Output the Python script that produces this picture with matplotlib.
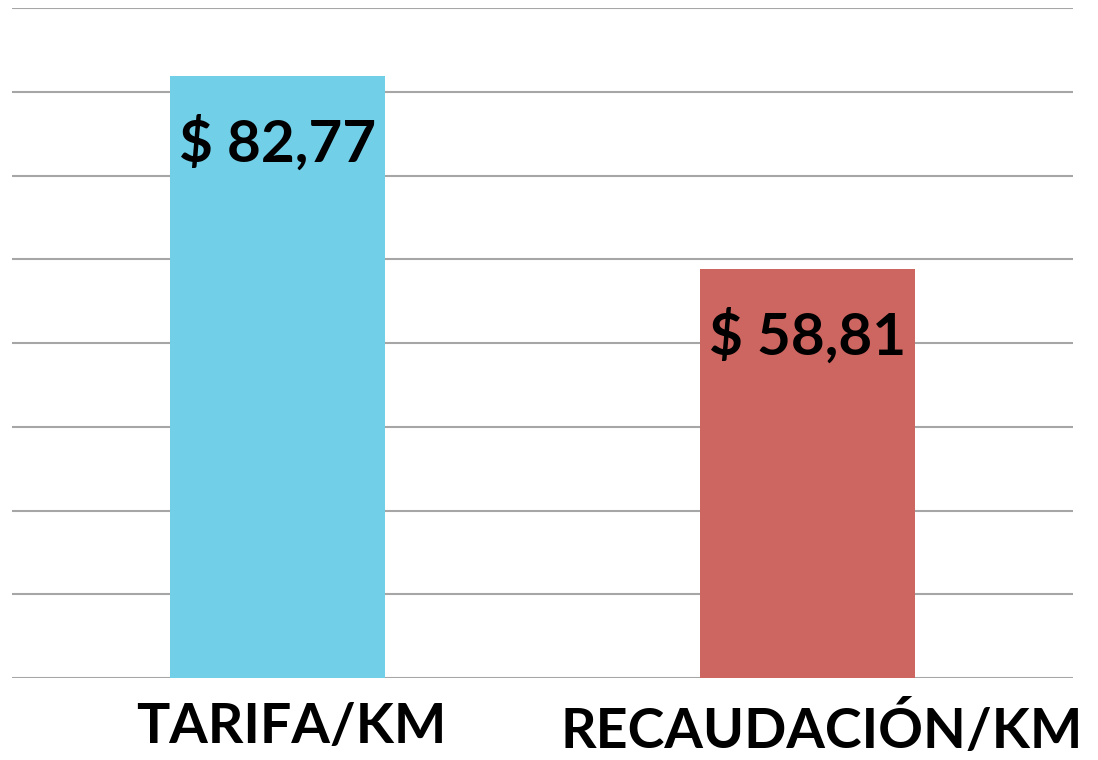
import matplotlib
matplotlib.use("Agg")
import matplotlib.pyplot as plt
import matplotlib.transforms as mtransforms

categories = ["TARIFA/KM", "RECAUDACIÓN/KM"]
bar_heights = [86.3, 58.6]          # heights (grid step 12)
value_labels = ["$ 82,77", "$ 58,81"]
colors = ["#72CFE8", "#CD6660"]

fig = plt.figure(figsize=(10.98, 7.6), dpi=100)
ax = fig.add_axes([12/1098, (760-678)/760, (1073-12)/1098, (678-8)/760])

x = list(range(len(categories)))
bars = ax.bar(x, bar_heights, width=0.406, color=colors, zorder=3)

ax.set_xlim(-0.5, 1.5)
ax.set_ylim(0, 96)
ax.set_yticks([i * 12 for i in range(9)])
ax.yaxis.grid(True, color="#a6a6a6", linewidth=1.5, zorder=0)
ax.tick_params(axis="y", left=False, labelleft=False)
ax.tick_params(axis="x", bottom=False, pad=14)
ax.set_xticks(x)
ax.set_xticklabels(categories, fontsize=40, fontweight="bold", family=["Lato", "DejaVu Sans"])
shift = mtransforms.ScaledTranslation(14/100, 0, fig.dpi_scale_trans)
for lbl in ax.get_xticklabels():
    lbl.set_transform(lbl.get_transform() + shift)
for s in ax.spines.values():
    s.set_visible(False)

for xi, h, lab in zip(x, bar_heights, value_labels):
    ax.annotate(lab, xy=(xi, h), xytext=(0, -49), textcoords="offset points",
                ha="center", va="center", fontsize=42, fontweight="bold",
                family=["Lato", "DejaVu Sans"], color="black", zorder=4)

fig.savefig("out.png", dpi=100)
